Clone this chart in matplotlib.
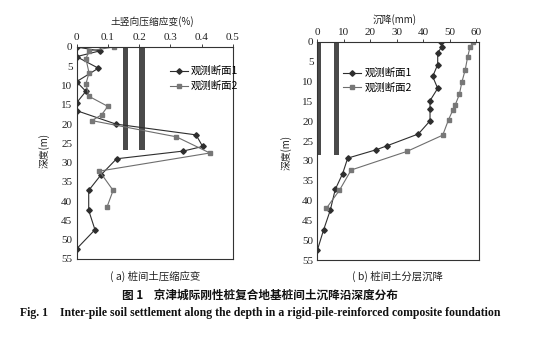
import matplotlib
matplotlib.use("Agg")
import matplotlib.pyplot as plt

plt.rcParams['font.family'] = ['Liberation Serif', 'Noto Sans CJK SC']

# (a) 桩间土压缩应变 (%)
depth_a1 = [0, 1, 2.5, 5.5, 9, 11.5, 14.5, 16.5, 20, 22.8, 25.8, 27, 29, 33.2, 37.2, 42.4, 47.4, 52.4]
strain_a1 = [0, 0.075, 0, 0.07, 0, 0.03, 0, 0, 0.126, 0.382, 0.403, 0.341, 0.128, 0.078, 0.039, 0.039, 0.059, 0]
depth_a2 = [0, 1, 3, 6.7, 9.6, 12.8, 15.4, 17.6, 19.1, 23.3, 27.5, 32.2, 37.2, 41.6]
strain_a2 = [0.12, 0.041, 0.03, 0.04, 0.03, 0.04, 0.1, 0.08, 0.049, 0.319, 0.426, 0.073, 0.117, 0.097]

# (b) 桩间土分层沉降 (mm)
depth_b1 = [0, 1.3, 2.7, 5.7, 8.7, 11.7, 14.8, 17, 19.9, 23.2, 26.2, 27.2, 29.3, 33.2, 37.2, 42.5, 47.4, 52.4]
settle_b1 = [46.7, 46.9, 45.4, 45.4, 43.5, 45.4, 42.5, 42.5, 42.5, 38.1, 26.2, 22.1, 11.4, 9.5, 6.7, 4.8, 2.3, 0]
depth_b2 = [0, 1.3, 3.8, 7, 10.2, 13.2, 15.9, 17.2, 19.6, 23.5, 27.6, 32.3, 37.4, 42]
settle_b2 = [58.9, 57.6, 56.7, 55.8, 54.5, 53.6, 52, 51.1, 49.5, 47.3, 33.8, 12.7, 8.3, 3.3]

# 桩 (piles)
piles_a = [(0.148, 0.164), (0.200, 0.219)]
piles_b = [(-0.3, 1.4), (6.4, 8.3)]
pile_a_depth = 26.6
pile_b_depth = 28.4

series_names = ['观测断面1', '观测断面2']

W, H = 540, 340
fig = plt.figure(figsize=(W / 100, H / 100), dpi=100)


def box(l, t, r, b):
    return [l / W, 1 - b / H, (r - l) / W, (b - t) / H]


c1 = '#2e2e2e'
c2 = '#6e6e6e'
tick_fs = 8


def style(ax):
    ax.xaxis.tick_top()
    ax.tick_params(axis='x', direction='out', length=2, width=0.6, pad=1.5,
                   labelsize=tick_fs, colors='#222222')
    ax.tick_params(axis='y', direction='out', length=0, pad=3,
                   labelsize=tick_fs, colors='#222222')
    for s in ax.spines.values():
        s.set_linewidth(0.8)
        s.set_color('#333333')
    ax.set_yticks(range(0, 56, 5))
    ax.set_ylim(55, 0)


# ---- 左图
ax1 = fig.add_axes(box(76.5, 47, 233, 259))
for x0, x1 in piles_a:
    ax1.fill_betweenx([0, pile_a_depth], x0, x1, color='#4a4a4a', lw=0)
ax1.plot(strain_a1, depth_a1, color=c1, lw=0.8, marker='D', ms=2.8, mfc=c1, mec=c1,
         label=series_names[0])
ax1.plot(strain_a2, depth_a2, color=c2, lw=0.8, marker='s', ms=3.4, mfc='#777777', mec='#777777',
         label=series_names[1])
ax1.set_xlim(0, 0.5)
ax1.set_xticks([0, 0.1, 0.2, 0.3, 0.4, 0.5])
ax1.set_xticklabels(['0', '0.1', '0.2', '0.3', '0.4', '0.5'])
style(ax1)
ax1.legend(loc='upper left', bbox_to_anchor=(0.57, 0.93), frameon=False,
           handlelength=1.7, handletextpad=0.3, labelspacing=0.45,
           borderaxespad=0, prop={'family': ['Noto Sans CJK SC'], 'size': 7.5})

# ---- 右图
ax2 = fig.add_axes(box(317.5, 42, 479, 260))
for x0, x1 in piles_b:
    ax2.fill_betweenx([0, pile_b_depth], x0, x1, color='#4a4a4a', lw=0, clip_on=False)
ax2.plot(settle_b1, depth_b1, color=c1, lw=0.8, marker='D', ms=2.8, mfc=c1, mec=c1,
         label=series_names[0])
ax2.plot(settle_b2, depth_b2, color=c2, lw=0.8, marker='s', ms=3.4, mfc='#777777', mec='#777777',
         label=series_names[1])
ax2.set_xlim(0, 61)
ax2.set_xticks(range(0, 61, 10))
style(ax2)
ax2.legend(loc='upper left', bbox_to_anchor=(0.135, 0.9), frameon=False,
           handlelength=1.7, handletextpad=0.3, labelspacing=0.45,
           borderaxespad=0, prop={'family': ['Noto Sans CJK SC'], 'size': 7.5})

# ---- 轴标题
cjk = ['Noto Sans CJK SC']
fig.text(152 / W, 1 - 22 / H, '土竖向压缩应变(%)', ha='center', va='center',
         fontsize=7, family=cjk, color='#222222')
fig.text(395 / W, 1 - 20 / H, '沉降(mm)', ha='center', va='center',
         fontsize=7, family=cjk, color='#222222')
fig.text(44 / W, 1 - 150 / H, '深度(m)', ha='center', va='center', rotation=90,
         fontsize=7, family=cjk, color='#222222')
fig.text(286 / W, 1 - 152 / H, '深度(m)', ha='center', va='center', rotation=90,
         fontsize=7, family=cjk, color='#222222')

# ---- 图注
fig.text(155 / W, 1 - 276 / H, '( a) 桩间土压缩应变', ha='center', va='center',
         fontsize=7.5, family=cjk, color='#222222')
fig.text(397 / W, 1 - 276 / H, '( b) 桩间土分层沉降', ha='center', va='center',
         fontsize=7.5, family=cjk, color='#222222')
fig.text(260 / W, 1 - 295 / H, '图 1    京津城际刚性桩复合地基桩间土沉降沿深度分布', ha='center',
         va='center', fontsize=8.4, family=cjk, weight='bold', color='#111111')
fig.text(260 / W, 1 - 313 / H,
         'Fig. 1    Inter-pile soil settlement along the depth in a rigid-pile-reinforced composite foundation',
         ha='center', va='center', fontsize=8.5, family=['Liberation Serif'], weight='bold',
         color='#111111')

fig.savefig('out.png', dpi=100)
